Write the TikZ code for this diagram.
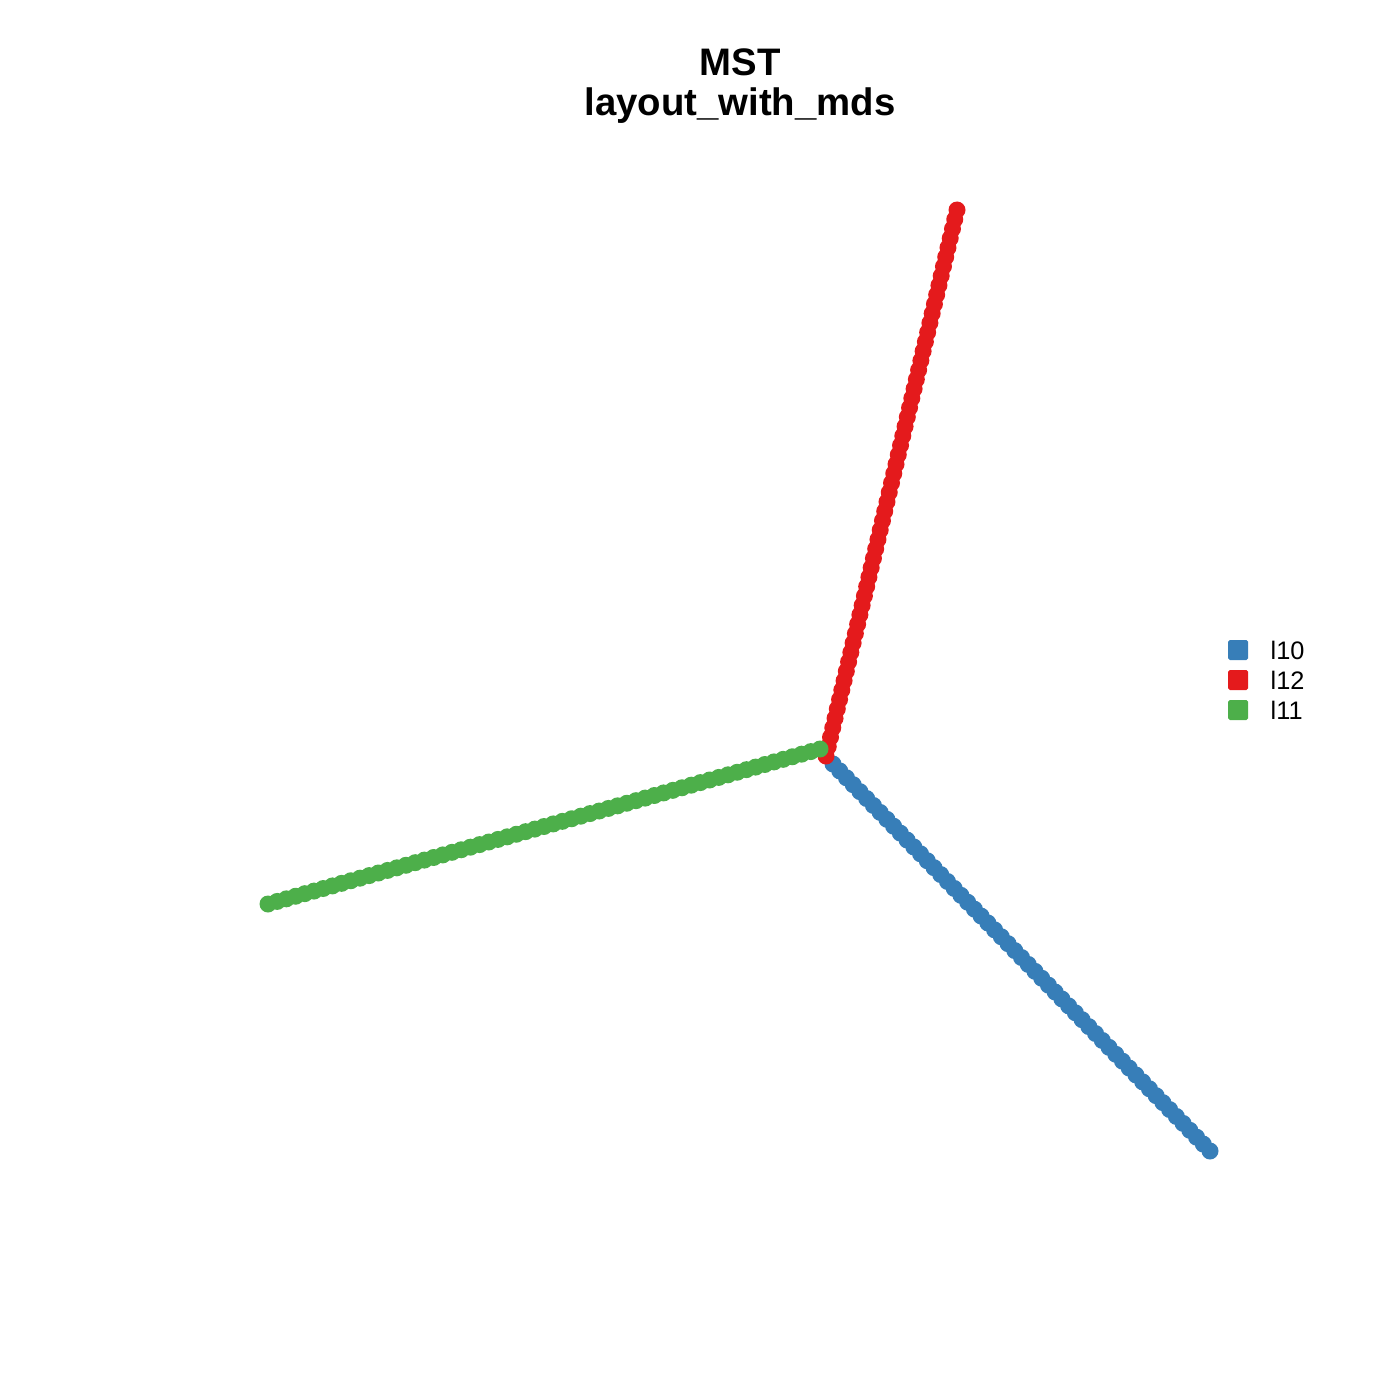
\documentclass[tikz,border=0pt]{standalone}
\usepackage{fontspec}
\setmainfont{Liberation Sans}
\usetikzlibrary{calc}
\definecolor{setblue}{HTML}{377EB8}
\definecolor{setred}{HTML}{E41A1C}
\definecolor{setgreen}{HTML}{4DAF4A}
\tikzset{
  dot/.style={fill=#1,draw=none},
  legkey/.style={fill=#1,draw=none,rounded corners=0.5pt,minimum size=0.2cm,inner sep=0pt},
  legtext/.style={anchor=west,inner sep=0pt,font=\fontsize{7.2}{8}\selectfont}
}
\begin{document}
\begin{tikzpicture}[x=0.01cm,y=-0.01cm]
\useasboundingbox (0,0) rectangle (1400,1400);
\node (title) at (740,86) [align=center,font=\bfseries\fontsize{10.9}{11.4}\selectfont] {MST\\layout\_with\_mds};
% branch ends
\coordinate (redtop) at (957,210);
\coordinate (redend) at (826,756);
\coordinate (greenend) at (268,904);
\coordinate (greentop) at (820,749);
\coordinate (bluetop) at (833,764);
\coordinate (blueend) at (1210,1151);
\foreach \i in {0,...,56}
  \fill [dot=setblue] ($(bluetop)!\i/56!(blueend)$) circle (8.5);
\foreach \i in {0,...,58}
  \fill [dot=setred] ($(redtop)!\i/58!(redend)$) circle (8.5);
\foreach \i in {0,...,60}
  \fill [dot=setgreen] ($(greenend)!\i/60!(greentop)$) circle (8.5);
% legend
\node (key10) at (1238,650) [legkey=setblue] {};
\node (key12) at (1238,680) [legkey=setred] {};
\node (key11) at (1238,710) [legkey=setgreen] {};
\node (lab10) at (1270,650) [legtext] {l10};
\node (lab12) at (1270,680) [legtext] {l12};
\node (lab11) at (1270,710) [legtext] {l11};
\end{tikzpicture}
\end{document}
